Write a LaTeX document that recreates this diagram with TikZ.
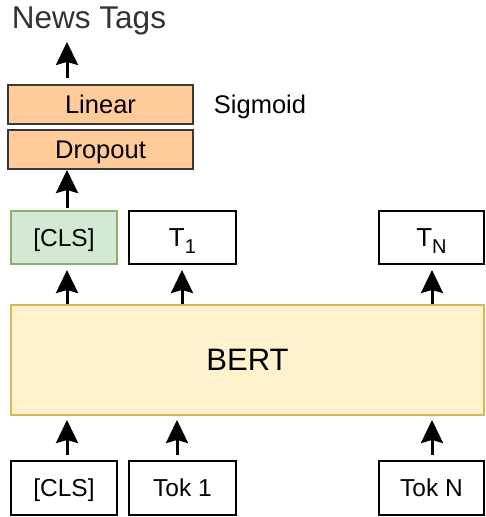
\documentclass[tikz,border=0pt]{standalone}
\usepackage{fontspec}
\setmainfont{Liberation Sans}
\usetikzlibrary{arrows.meta}

\definecolor{headfill}{HTML}{FFCC99}
\definecolor{headline}{HTML}{36393D}
\definecolor{clsfill}{HTML}{D5E8D4}
\definecolor{clsline}{HTML}{82B366}
\definecolor{bertfill}{HTML}{FFF2CC}
\definecolor{bertline}{HTML}{D6B656}
\definecolor{titlegray}{HTML}{333333}

\tikzset{
  fnt/.style={font=\fontsize{#1}{#1}\selectfont,
              text height=#1*0.85pt, text depth=#1*0.15pt},
  box/.style={rectangle, draw, line width=2pt, inner sep=0pt, fill=white},
  headbox/.style={box, draw=headline, fill=headfill,
                  minimum width=185, minimum height=39, fnt=25.5},
  tokbox/.style={box, minimum width=106, minimum height=54, fnt=24.5},
  outbox/.style={box, minimum width=106, minimum height=53, fnt=26},
  arr/.style={line width=3pt,
              -{Stealth[length=23pt,width=22pt,inset=3pt]}},
}

\begin{document}
\begin{tikzpicture}[x=1pt,y=-1pt]
  \useasboundingbox[fill=white] (0,0) rectangle (485,517);

  % arrow columns
  \coordinate (colA) at (67,0);
  \coordinate (colB) at (182,0);
  \coordinate (colBin) at (177,0);
  \coordinate (colC) at (432,0);

  % classification head
  \node[fnt=31.5, text=titlegray, inner sep=0pt, anchor=base] (tags) at (89,28) {News Tags};
  \node[headbox] (linear) at (100.5,104.5) {Linear};
  \node[headbox] (dropout) at (100.5,149.5) {Dropout};
  \node[fnt=25.5, inner sep=0pt, anchor=base] (sigmoid) at (260,113) {Sigmoid};

  % encoder outputs
  \node[outbox, draw=clsline, fill=clsfill, fnt=24.5] (clsout) at (64,237.5) {[CLS]};
  \node[outbox, minimum width=107] (t1) at (182.5,237.5)
       {T\raisebox{-7pt}{\fontsize{20}{20}\selectfont 1}};
  \node[outbox, minimum width=105] (tn) at (431.5,237.5)
       {T\raisebox{-7pt}{\fontsize{20}{20}\selectfont N}};

  % encoder
  \node[box, draw=bertline, fill=bertfill, minimum width=473, minimum height=110, fnt=31]
       (bert) at (247.5,360) {BERT};

  % input tokens
  \node[tokbox] (clsin) at (64,488) {[CLS]};
  \node[tokbox, minimum width=107] (tok1) at (182.5,488) {Tok 1};
  \node[tokbox, minimum width=105] (tokn) at (431.5,488) {Tok N};

  % connectors
  \draw[arr, shorten <=6pt, shorten >=9pt] (linear.north -| colA) -- (tags.south -| colA);
  \draw[arr, shorten <=2pt] (clsout.north -| colA) -- (dropout.south -| colA);

  \draw[arr, shorten >=5pt] (bert.north -| colA) -- (clsout.south -| colA);
  \draw[arr, shorten >=5pt] (bert.north -| colB) -- (t1.south -| colB);
  \draw[arr, shorten >=5pt] (bert.north -| colC) -- (tn.south -| colC);

  \draw[arr, shorten <=5pt, shorten >=4pt] (clsin.north -| colA) -- (bert.south -| colA);
  \draw[arr, shorten <=5pt, shorten >=4pt] (tok1.north -| colBin) -- (bert.south -| colBin);
  \draw[arr, shorten <=5pt, shorten >=4pt] (tokn.north -| colC) -- (bert.south -| colC);
\end{tikzpicture}
\end{document}
